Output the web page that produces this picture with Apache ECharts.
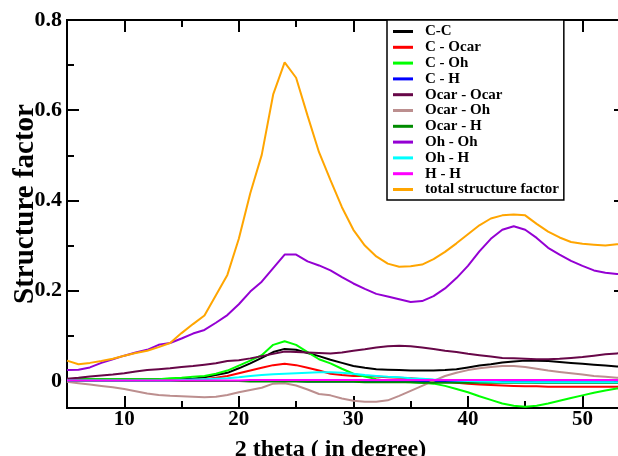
<!DOCTYPE html>
<html><head><meta charset="utf-8">
<script src="https://cdn.jsdelivr.net/npm/echarts@6/dist/echarts.min.js"></script>
<style>html,body{margin:0;padding:0;background:#fff}#c{width:618px;height:456px}</style>
</head><body><div id="c"></div>
<script>
// x values (2 theta, degrees)
const xs = [5,6,7,8,9,10,11,12,13,14,15,16,17,18,19,20,21,22,23,24,25,26,27,28,29,30,31,32,33,34,35,36,37,38,39,40,41,42,43,44,45,46,47,48,49,50,51,52,53,54];

const seriesNames = ['C-C','C - Ocar','C - Oh','C - H','Ocar - Ocar','Ocar - Oh','Ocar - H','Oh - Oh','Oh - H','H - H','total structure factor'];
const seriesColors = ['#000000','#ff0000','#00ff00','#0000ff','#670748','#bc8f8f','#008b00','#9400d3','#00ffff','#ff00ff','#ffa500'];

const cc = [0.004,0.004,0.004,0.004,0.004,0.004,0.004,0.004,0.004,0.004,0.004,0.005,0.008,0.013,0.018,0.028,0.039,0.051,0.064,0.071,0.069,0.062,0.055,0.047,0.040,0.033,0.029,0.026,0.025,0.024,0.023,0.023,0.023,0.024,0.026,0.030,0.034,0.037,0.041,0.043,0.045,0.045,0.044,0.042,0.040,0.038,0.036,0.034,0.032,0.031];
const cOcar = [0.002,0.002,0.002,0.002,0.002,0.002,0.002,0.002,0.002,0.002,0.002,0.002,0.004,0.007,0.011,0.017,0.023,0.029,0.035,0.038,0.035,0.029,0.023,0.016,0.013,0.011,0.011,0.010,0.008,0.007,0.006,0.004,0.002,-0.001,-0.004,-0.006,-0.008,-0.009,-0.010,-0.011,-0.012,-0.012,-0.013,-0.013,-0.013,-0.013,-0.013,-0.013,-0.013,-0.013];
const cOh = [0.004,0.004,0.004,0.004,0.004,0.004,0.004,0.004,0.004,0.006,0.007,0.009,0.011,0.016,0.023,0.034,0.045,0.057,0.080,0.088,0.080,0.064,0.048,0.039,0.027,0.016,0.010,0.004,0.000,-0.002,-0.003,-0.004,-0.006,-0.011,-0.018,-0.025,-0.034,-0.042,-0.050,-0.055,-0.057,-0.055,-0.050,-0.044,-0.038,-0.032,-0.026,-0.021,-0.017,-0.015];
const cH = [0,0,0,0,0,0,0,0,0,0,0,0,0,0,0,0,0,0,0,0,0,-0.001,-0.001,-0.001,-0.001,-0.001,-0.001,-0.001,-0.001,-0.001,-0.001,-0.002,-0.002,-0.002,-0.002,-0.002,-0.002,-0.002,-0.002,-0.002,-0.002,-0.003,-0.003,-0.003,-0.003,-0.003,-0.003,-0.003,-0.003,-0.003];
const ocarOcar = [0.005,0.007,0.010,0.012,0.014,0.017,0.021,0.024,0.026,0.028,0.031,0.033,0.036,0.039,0.044,0.046,0.050,0.055,0.060,0.065,0.064,0.063,0.062,0.061,0.063,0.067,0.070,0.074,0.077,0.078,0.077,0.074,0.071,0.067,0.064,0.060,0.057,0.054,0.051,0.050,0.049,0.048,0.048,0.049,0.051,0.053,0.056,0.059,0.061,0.062];
const ocarOh = [-0.002,-0.005,-0.008,-0.011,-0.014,-0.018,-0.023,-0.028,-0.031,-0.033,-0.034,-0.035,-0.036,-0.035,-0.031,-0.025,-0.020,-0.015,-0.006,-0.005,-0.010,-0.019,-0.029,-0.032,-0.039,-0.044,-0.046,-0.046,-0.043,-0.033,-0.022,-0.011,0.000,0.011,0.018,0.024,0.028,0.031,0.033,0.033,0.031,0.027,0.023,0.020,0.017,0.014,0.011,0.009,0.007,0.006];
const ocarH = [0,0,0,0,0,0,0,0,0,0,0,0,0,0,0,0,-0.001,-0.001,-0.001,-0.001,-0.001,-0.002,-0.002,-0.002,-0.002,-0.002,-0.003,-0.003,-0.003,-0.003,-0.003,-0.004,-0.004,-0.004,-0.004,-0.004,-0.004,-0.004,-0.004,-0.004,-0.004,-0.004,-0.004,-0.004,-0.004,-0.004,-0.004,-0.004,-0.004,-0.004];
const ohOh = [0.024,0.025,0.030,0.040,0.048,0.056,0.063,0.069,0.080,0.084,0.094,0.105,0.113,0.129,0.146,0.170,0.198,0.220,0.250,0.280,0.280,0.265,0.256,0.245,0.230,0.216,0.204,0.193,0.187,0.181,0.175,0.177,0.188,0.205,0.228,0.255,0.287,0.315,0.335,0.343,0.335,0.317,0.295,0.280,0.266,0.255,0.245,0.240,0.237,0.236];
const ohH = [0.001,0.001,0.001,0.001,0.001,0.001,0.001,0.001,0.001,0.001,0.002,0.003,0.004,0.005,0.006,0.008,0.011,0.013,0.015,0.016,0.017,0.018,0.019,0.019,0.018,0.016,0.013,0.011,0.009,0.008,0.006,0.005,0.003,0.002,0.001,0.000,-0.001,-0.002,-0.003,-0.003,-0.003,-0.003,-0.003,-0.003,-0.003,-0.003,-0.003,-0.003,-0.003,-0.003];
const hh = [0.001,0.001,0.001,0.001,0.001,0.001,0.001,0.001,0.001,0.001,0.001,0.001,0.001,0.001,0.001,0.001,0.002,0.002,0.002,0.002,0.002,0.002,0.002,0.002,0.002,0.002,0.002,0.002,0.002,0.002,0.002,0.002,0.002,0.002,0.002,0.002,0.002,0.002,0.002,0.002,0.002,0.002,0.002,0.002,0.002,0.002,0.002,0.002,0.002,0.002];
const total = [0.045,0.037,0.040,0.044,0.049,0.056,0.062,0.067,0.075,0.084,0.106,0.126,0.145,0.190,0.235,0.315,0.416,0.501,0.635,0.706,0.672,0.588,0.507,0.445,0.385,0.335,0.300,0.276,0.260,0.253,0.254,0.258,0.270,0.286,0.305,0.325,0.345,0.360,0.367,0.369,0.367,0.348,0.331,0.318,0.308,0.304,0.302,0.300,0.303,0.305];

const seriesValues = [cc,cOcar,cOh,cH,ocarOcar,ocarOh,ocarH,ohOh,ohH,hh,total];

const xMajor = [10,20,30,40,50];
const xMinor = [15,25,35,45];
const yMajor = [0,0.2,0.4,0.6,0.8];
const yMinor = [0.1,0.3,0.5,0.7];

const FONT = 'Liberation Serif';
const X_MIN = 5, X_MAX = 53.8, Y_MIN = -0.06, Y_MAX = 0.8;
const line = {show:true, onZero:false, lineStyle:{color:'#000', width:2}};

function xAx(pos, ticks, len, labels){
  return {type:'value', gridIndex:0, position:pos, min:X_MIN, max:X_MAX,
    axisLine: line, splitLine:{show:false},
    axisTick:{show:true, inside:true, length:len, customValues:ticks, lineStyle:{color:'#000', width:2}},
    axisLabel: labels ? {show:true, customValues:ticks, fontFamily:FONT, fontWeight:'bold', fontSize:21, color:'#000', margin:1} : {show:false}
  };
}
function yAx(pos, ticks, len, labels){
  return {type:'value', gridIndex:0, position:pos, min:Y_MIN, max:Y_MAX,
    axisLine: line, splitLine:{show:false},
    axisTick:{show:true, inside:true, length:len, customValues:ticks, lineStyle:{color:'#000', width:2}},
    axisLabel: labels ? {show:true, customValues:ticks, fontFamily:FONT, fontWeight:'bold', fontSize:22, color:'#000', margin:5,
      formatter: v => (Math.abs(v) < 1e-9 ? '0' : v.toFixed(1))} : {show:false}
  };
}

const xAxes = [xAx('bottom', xMajor, 12, true), xAx('bottom', xMinor, 7, false), xAx('top', xMajor, 12, false), xAx('top', xMinor, 7, false)];
xAxes[0].name = '2 theta ( in degree)';
xAxes[0].nameLocation = 'middle';
xAxes[0].nameGap = 30;
xAxes[0].nameMoveOverlap = false;
xAxes[0].nameTextStyle = {fontFamily:FONT, fontWeight:'bold', fontSize:24, color:'#000', padding:[0,32,0,0]};
const yAxes = [yAx('left', yMajor, 12, true), yAx('left', yMinor, 7, false), yAx('right', yMajor, 12, false), yAx('right', yMinor, 7, false)];
yAxes[0].name = 'Structure factor';
yAxes[0].nameLocation = 'middle';
yAxes[0].nameGap = 27;
yAxes[0].nameMoveOverlap = false;
yAxes[0].nameTextStyle = {fontFamily:FONT, fontWeight:'bold', fontSize:29, color:'#000', padding:[0,0,0,20]};

const series = seriesNames.map((n,i) => ({
  name:n, type:'line', xAxisIndex:0, yAxisIndex:0, showSymbol:false, symbol:'none', animation:false,
  lineStyle:{color:seriesColors[i], width:2}, itemStyle:{color:seriesColors[i]},
  data: xs.map((x,j) => [x, seriesValues[i][j]])
}));

const chart = echarts.init(document.getElementById('c'), null, {renderer:'canvas'});
chart.setOption({
  backgroundColor:'#fff',
  animation:false,
  grid:{left:67, top:20, right:-8, bottom:48, containLabel:false, outerBoundsMode:'none'},
  xAxis: xAxes,
  yAxis: yAxes,
  legend:{
    show:true, orient:'vertical', left:387, top:20,
    backgroundColor:'#fff', borderColor:'#000', borderWidth:1.5,
    padding:[4,5,3,6], itemGap:0.8, itemWidth:20, itemHeight:3, icon:'rect',
    textStyle:{fontFamily:FONT, fontWeight:'bold', fontSize:15, lineHeight:15, color:'#000', padding:[0,0,0,7]},
    data: seriesNames
  },
  series: series
});
</script></body></html>
